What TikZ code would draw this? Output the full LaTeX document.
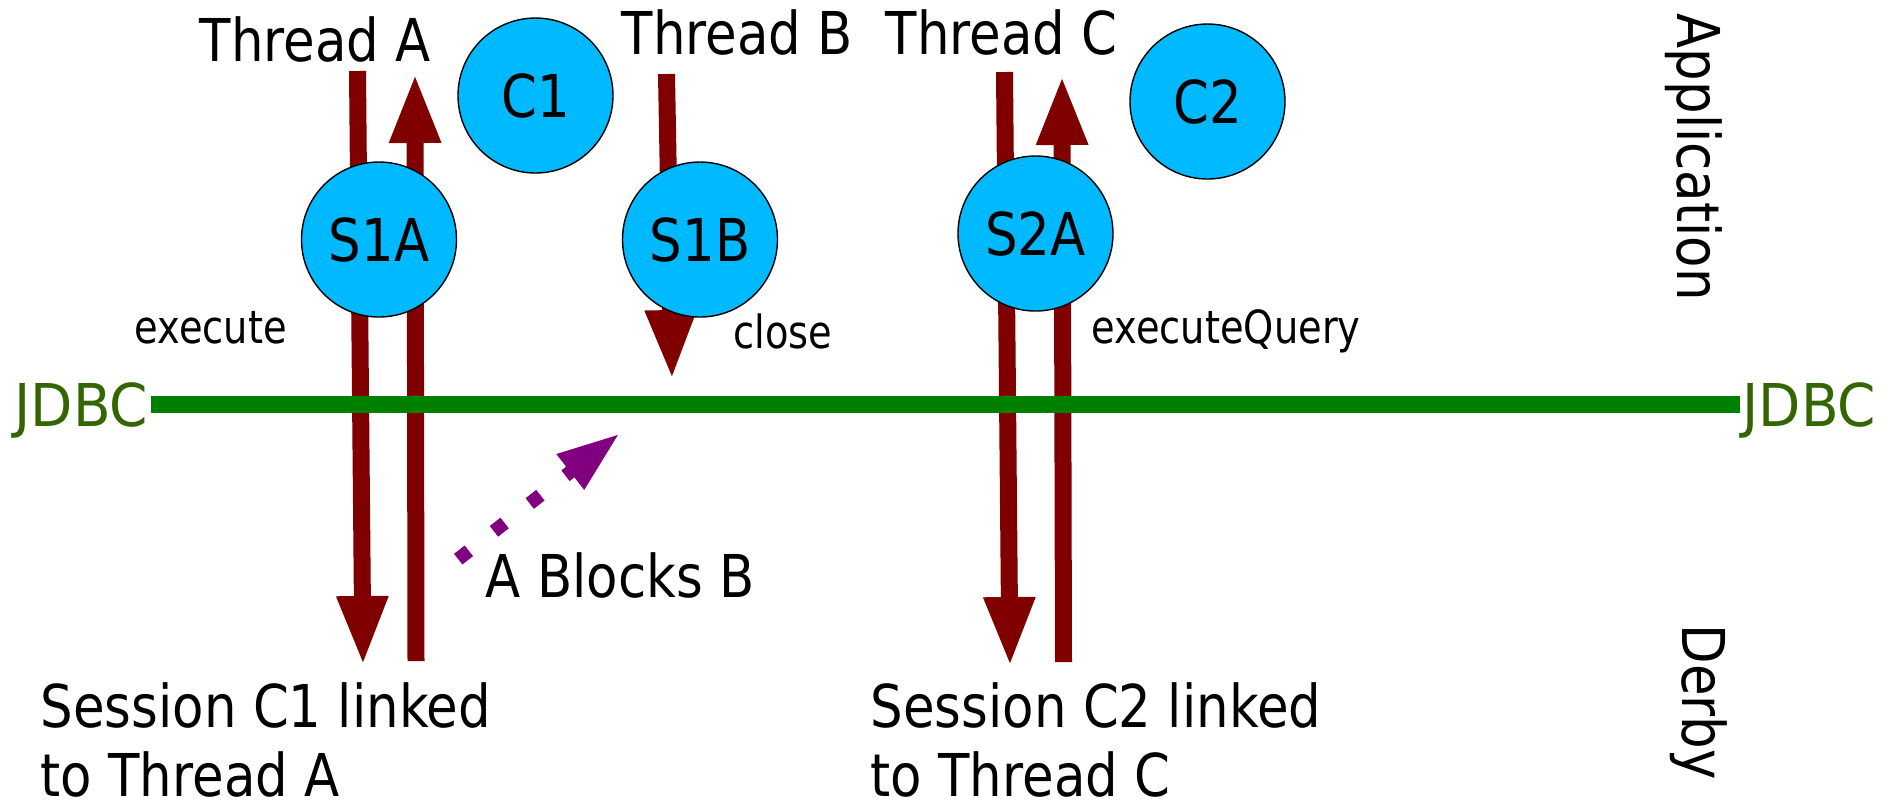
\documentclass[tikz,border=0pt]{standalone}
\usepackage{fontspec}
\setmainfont{DejaVu Sans}[FakeStretch=0.87]
\newfontfamily\smallfont{DejaVu Sans}[FakeStretch=0.84]
\newfontfamily\jdbcfont{DejaVu Sans}[FakeStretch=0.93]
\usetikzlibrary{arrows.meta}
\definecolor{thr}{HTML}{800000}
\definecolor{sess}{HTML}{00B9FF}
\definecolor{bus}{HTML}{008000}
\definecolor{jdbctext}{HTML}{336600}
\definecolor{blk}{HTML}{800080}

\begin{document}
\begin{tikzpicture}[
  big/.style={font=\fontsize{16.8}{19.6}\selectfont,inner sep=0pt},
  small/.style={font=\smallfont\fontsize{13}{15}\selectfont,inner sep=0pt},
  stmt/.style={circle,draw=black,line width=0.4pt,fill=sess,minimum size=1.55cm,
    inner sep=0pt,font=\fontsize{16.8}{19.6}\selectfont},
  call/.style={draw=thr,line width=0.17cm,-{Triangle[length=0.7cm,width=0.47cm]}},
  jdbc/.style={font=\jdbcfont\fontsize{16.8}{19.6}\selectfont,text=jdbctext,
    inner xsep=0.02cm,inner ysep=0pt,text height=0.43cm,text depth=0pt}
]
\useasboundingbox (0,0) rectangle (18.96,-8.04);

% thread calls
\coordinate (aDn0) at (3.575,-0.71); \coordinate (aDn1) at (3.63,-6.66);
\coordinate (aUp0) at (4.16,-6.61);  \coordinate (aUp1) at (4.15,-0.73);
\coordinate (bDn0) at (6.665,-0.74); \coordinate (bDn1) at (6.72,-3.80);
\coordinate (cDn0) at (10.045,-0.72);\coordinate (cDn1) at (10.10,-6.67);
\coordinate (cUp0) at (10.635,-6.62);\coordinate (cUp1) at (10.62,-0.75);
\draw[call] (aDn0) -- (aDn1);
\draw[call] (aUp0) -- (aUp1);
\draw[call] (bDn0) -- (bDn1);
\draw[call] (cDn0) -- (cDn1);
\draw[call] (cUp0) -- (cUp1);

% JDBC layer
\node[jdbc,anchor=east] (jdbcL) at (1.51,-4.045) {JDBC};
\node[jdbc,anchor=west] (jdbcR) at (17.40,-4.045) {JDBC};
\draw[bus,line width=0.17cm] (jdbcL) -- (jdbcR);

% A blocks B
\coordinate (blk0) at (4.582,-5.591); \coordinate (blk1) at (6.20,-4.333);
\draw[blk,line width=0.135cm,dash pattern=on 0.135cm off 0.318cm,
  -{Triangle[length=0.63cm,width=0.41cm]}] (blk0) -- (blk1);
\node[big,anchor=base west] (blocks) at (4.85,-5.97) {A Blocks B};

% connections and statements
\node[stmt] (C1) at (5.355,-0.955) {C1};
\node[stmt] (C2) at (12.075,-1.015) {C2};
\node[stmt] (S1A) at (3.79,-2.395) {S1A};
\node[stmt] (S1B) at (7.00,-2.395) {S1B};
\node[stmt] (S2A) at (10.355,-2.335) {S2A};

\node[big,anchor=base west] (thA) at (1.99,-0.61) {Thread A};
\node[big,anchor=base west] (thB) at (6.21,-0.54) {Thread B};
\node[big,anchor=base west] (thC) at (8.85,-0.54) {Thread C};

\node[small,anchor=base west] (exec) at (1.34,-3.43) {execute};
\node[small,anchor=base west] (close) at (7.33,-3.48) {close};
\node[small,anchor=base west] (execQ) at (10.91,-3.43) {executeQuery};

\node[big,align=left,anchor=north west] (sesC1) at (0.40,-6.82) {Session C1 linked\\to Thread A};
\node[big,align=left,anchor=north west] (sesC2) at (8.70,-6.82) {Session C2 linked\\to Thread C};

\node[big,rotate=-90,anchor=base west] (app) at (16.77,-0.13) {Application};
\node[big,rotate=-90,anchor=base west] (derby) at (16.82,-6.24) {Derby};
\end{tikzpicture}
\end{document}
